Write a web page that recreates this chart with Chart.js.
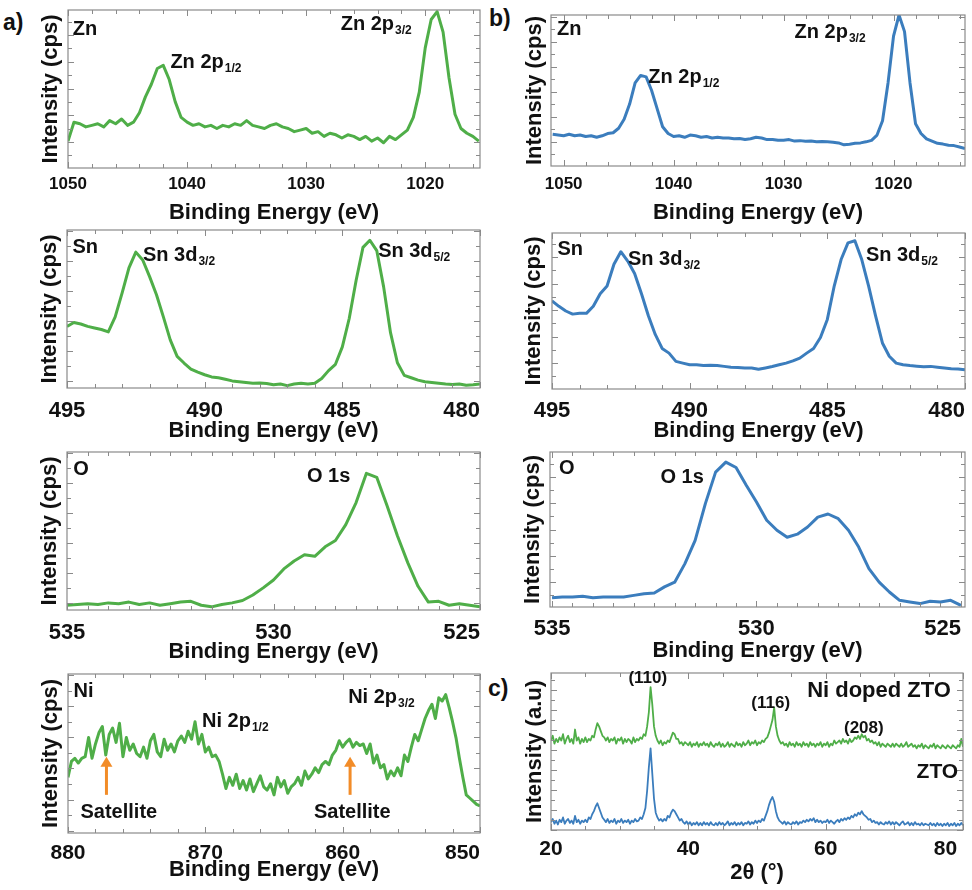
<!DOCTYPE html>
<html>
<head>
<meta charset="utf-8">
<script src="https://cdn.jsdelivr.net/npm/chart.js@4.4.1/dist/chart.umd.min.js"></script>
<style>
  body { margin: 0; background: #fff; width: 972px; height: 890px; position: relative; overflow: hidden;
         font-family: "Liberation Sans", Arial, sans-serif; }
  canvas { position: absolute; }
  .tag { position: absolute; font-weight: bold; font-size: 23px; color: #111; }
</style>
</head>
<body>
<div class="tag" style="left:3px;top:9px">a)</div>
<div class="tag" style="left:489px;top:5px">b)</div>
<div class="tag" style="left:488px;top:675px">c)</div>
<script>
// ---- data (intensities, 0 = bottom of frame, 100 = top) ----
// spectra sampled on a uniform grid: start, step
const znTicks = [1050, 1040, 1030, 1020];
const snTicks = [495, 490, 485, 480];
const oTicks = [535, 530, 525];
const niTicks = [880, 870, 860, 850];
const xrdTicks = [20, 40, 60, 80];

// Ni doped ZTO (green), 1050 -> 1015.5 eV, step 0.5
const znA_I = [17,29,28,26,27,28,26,30,28,31, 27,29,35,45,53,63,65,56,42,32,
  29,27,28,26,27,25,27,26,28,27, 30,27,26,25,27,28,26,25,23,24,
  25,22,23,20,22,21,19,21,20,18, 20,17,19,16,20,18,21,24,32,48,
  76,94,99,86,57,34,25,22,20,17];
// ZTO (blue), 1051 -> 1013.5 eV, step 0.5
const znB_I = [21,20.5,20,21,20,20.5,19.5,20,19,20, 21.5,22,25,31,41,55,60,59,50,38,
  26,21.5,19.5,20,19,20.5,20,19,19.5,18.5, 19,18.5,18.6,18,18.2,17.5,18,19,18.5,17.5,
  17.6,17,17,17.5,16.5,16.8,16.4,16.5,16,16.2, 16,15.8,15.3,14,14.4,15,15.3,16,17,20.5,
  30,55,86,100,89,55,28,21.5,18,16.5, 15,14.5,13.7,13.5,12.6,11.5];
// 495 -> 480 eV, step 0.25
const snA_I = [39,41.5,40.5,39,38,37,35.5,45,60,76, 86,81,70.5,59,45,30.5,20,15.8,12,10,
  8.4,7,6.5,5.5,4.5,4,3.5,3,3.2,2.8, 2,2.5,1.5,2.5,3,2.5,3,6,11,15,
  26,44,68,89,93.5,87,64,35,16,8, 6.5,5,4,3.5,3,2.5,2.2,2.5,1.8,2,2.5];
const snB_I = [56.5,53,50,48,48.5,48.5,53,61,66,80, 88,82,74,61,47,35,26,23,17.7,16.6,
  15.5,15.5,15,15.2,15,14.5,14,13.8,13.4,13.5, 12.7,13.5,14.4,15.5,16.6,18,19.8,23,26,33,
  44.6,66,83,93.7,95,83,66,47,29.5,21, 16.6,15.5,15,14.6,14.2,14.5,14,13.5,13,12.8,12.3];
// 535 -> 525 eV, step 0.25
const oA_I = [3,3.5,4,3.5,4.5,4,5,3.5,4.5,3, 4,5,5.5,3,2,3.5,4.5,6,9.5,14,
  19,26,31,35,34,40,44,54,68,86.5, 84,66,47,30,15,5,5.5,3,4,3, 2];
const oB_I = [6,6.5,6.5,7,6,6.5,6.5,6.5,7.5,8.6, 9,13,16,28,43,66.7,87,93.5,90,78.5,
  67.7,56,49.5,45,47,51.6,58,60,57,49.5, 38.7,24.7,16,9.7,4.3,3.2,2.2,3.7,3.2,4.3, 1];
// 880 -> 850 eV, step 0.25
const niA_I = [35,45,47,44,47,48,60,47,56,63, 67,49,62,66,57,69,48,60,52,56,
  50,48,54,47,58,62,51,48,59,52, 56,51,58,61,57,64,59,70,56,62,
  51,54,48,49,45,37,28,35,30,37, 28,33,27,34,26,31,36,29,27,31,
  24,35,29,33,25,29,31,35,30,39, 34,37,41,38,43,45,43,49,52,58,
  54,57,59,54,57,55,56,50,56,44, 49,41,43,34,39,36,41,36,49,45,
  54,62,58,65,72,77,81,72,85,83, 87,79,70,60,47,35,24,22,20,18, 17];
// XRD, 2theta 20 -> 80 deg, step 0.25
const xrdNi_I = [57,60,55,58,56,59,57,61,55,58, 60,56,58,55,64,57,59,55,58,56,
  59,56,58,57,60,59,64,68,66,63, 60,59,57,59,56,58,57,59,55,58,
  57,59,55,58,56,58,57,55,59,56, 58,57,59,58,61,60,66,75,91,80,
  66,60,57,55,57,54,56,55,57,56, 59,62,61,58,58,55,56,54,56,55,
  54,56,53,55,54,56,53,55,54,56, 54,55,53,56,54,53,55,54,56,53,
  55,53,54,56,53,55,54,53,56,54, 55,53,56,54,55,57,54,56,55,57,
  54,56,55,57,56,58,59,62,66,70, 78,66,60,57,55,56,54,55,53,56,
  54,55,53,56,54,55,53,56,54,55, 53,56,54,55,53,55,54,56,53,55,
  54,56,53,55,54,57,55,56,57,55, 58,56,57,55,58,56,57,59,58,60,
  58,61,59,60,57,58,56,57,55,56, 54,56,53,55,54,53,55,54,53,55,
  53,55,54,53,55,53,54,56,53,54, 55,53,54,52,54,53,55,52,54,53,
  52,54,53,55,52,54,53,52,54,53, 52,54,53,52,54,53,52,54,53,58, 53];
const xrdZTO_I = [5,7,4,6,3.5,6.5,5,8,4,6, 7,4.5,6,4,9,5,6.5,4,6,5,
  6.5,5,8,7,10,12,15,17,14,11, 8,6.5,5,7,4.5,6,5,7,4,6,
  5,7,4.5,6,5,6.5,4,6,5,7, 5.5,6,8,7,10,14,25,40,52,36,
  20,11,8,6,7,5.5,7,6,9,8, 11,13,12,10,8,6,7,5,4,5.5,
  3.5,5,3,4.5,3.5,5,3,4.5,3,5, 3.5,4.5,3,5,3.5,3,4.5,3,5,3.5,
  4.5,3,4,5.5,3,4.5,3.5,5,3,4.5, 3.5,5,3,4.5,4,5.5,3.5,5,4,6,
  4.5,6,5,7,6,9,12,16,19,21, 18,12,8,6,5,4,5.5,3.5,5,4,
  3.5,5,4,5.5,3.5,5,4.5,6,5,6.5, 5.5,7,6,7.5,5,6.5,5,6,4.5,5.5,
  5,6.5,4.5,6,5,4,5.5,6.5,5,7, 6,7.5,6.5,8,7,9,8,10,9,11,
  10,12,10,9,8,6.5,7,5,6,4.5, 5,3.5,5,4,3.5,5,4,5.5,3.5,5,
  3.5,5,4,3,4.5,5.5,3.5,4,5,3, 4.5,3,5,3.5,4,3,4.5,3,4,3.5,
  3,4.5,3,4,2.5,4.5,3,4,2.5,4, 3,4.5,2.5,4,3,4.5,2.5,4,3,4.5, 3];

const GREEN = '#4fae48', BLUE = '#3b7dbd', ORANGE = '#f28c28';
const FONT = '"Liberation Sans", Arial, sans-serif';

function series(start, step, vals) {
  return vals.map((v, i) => ({ x: +(start + i * step).toFixed(3), y: v }));
}

// frame with inward ticks on all four sides
const framePlugin = {
  id: 'frame',
  afterDraw(chart, args, o) {
    const { ctx, chartArea: a, scales: { x, y } } = chart;
    ctx.save();
    ctx.strokeStyle = '#8a8a8a';
    ctx.lineWidth = 1.2;
    ctx.strokeRect(a.left, a.top, a.right - a.left, a.bottom - a.top);
    ctx.lineWidth = 1;
    ctx.beginPath();
    const lo = Math.min(x.min, x.max), hi = Math.max(x.min, x.max);
    for (let v = Math.ceil(lo / o.minor - 1e-6) * o.minor; v <= hi + 1e-6; v += o.minor) {
      const px = Math.round(x.getPixelForValue(v)) + 0.5;
      const r = v / o.major;
      const L = Math.abs(r - Math.round(r)) < 1e-6 ? 6 : 4;
      ctx.moveTo(px, a.bottom); ctx.lineTo(px, a.bottom - L);
      ctx.moveTo(px, a.top); ctx.lineTo(px, a.top + L);
    }
    const half = o.ystep / 2;
    let v = o.y0 - Math.floor(o.y0 / half) * half;
    for (; v <= 100; v += half) {
      const py = Math.round(y.getPixelForValue(v)) + 0.5;
      const r = (v - o.y0) / o.ystep;
      const L = Math.abs(r - Math.round(r)) < 1e-6 ? 6 : 4;
      ctx.moveTo(a.left, py); ctx.lineTo(a.left + L, py);
      ctx.moveTo(a.right, py); ctx.lineTo(a.right - L, py);
    }
    ctx.stroke();
    ctx.restore();
  }
};

// peak labels (with subscripts) and arrows, placed in data coordinates
const notesPlugin = {
  id: 'notes',
  afterDraw(chart, args, o) {
    const { ctx, scales: { x, y } } = chart;
    ctx.save();
    ctx.fillStyle = '#111';
    ctx.textBaseline = 'alphabetic';
    (o.items || []).forEach(n => {
      const size = n.size || 20;
      const main = `bold ${size}px ${FONT}`, sub = `bold ${Math.round(size * 0.62)}px ${FONT}`;
      ctx.font = main;
      const w1 = ctx.measureText(n.t).width;
      ctx.font = sub;
      const w2 = n.s ? ctx.measureText(n.s).width : 0;
      let px = x.getPixelForValue(n.x);
      const py = y.getPixelForValue(n.y);
      if (n.align === 'center') px -= (w1 + w2) / 2;
      if (n.align === 'right') px -= (w1 + w2);
      ctx.font = main;
      ctx.fillText(n.t, px, py);
      if (n.s) { ctx.font = sub; ctx.fillText(n.s, px + w1 + 1, py + 4); }
    });
    (o.arrows || []).forEach(ar => {
      const px = x.getPixelForValue(ar.x);
      const p0 = y.getPixelForValue(ar.y0), p1 = y.getPixelForValue(ar.y1);
      ctx.strokeStyle = ORANGE; ctx.fillStyle = ORANGE; ctx.lineWidth = 3;
      ctx.beginPath(); ctx.moveTo(px, p0); ctx.lineTo(px, p1 + 8); ctx.stroke();
      ctx.beginPath(); ctx.moveTo(px - 6, p1 + 10); ctx.lineTo(px + 6, p1 + 10); ctx.lineTo(px, p1); ctx.closePath(); ctx.fill();
    });
    ctx.restore();
  }
};

const XPS_TITLE = 'Binding Energy (eV)';
const panels = [
  { box: [0, 0, 485], area: [68, 10, 480, 168], xr: [1015.4, 1050], rev: true, xt: znTicks, minor: 2, major: 10,
    y0: 16.5, ystep: 16.9, lab: 15, tit: 45, tsize: 17, yTitleX: 51, xTitle: XPS_TITLE, yTitle: 'Intensity (cps)',
    sets: [{ data: series(1050, -0.5, znA_I), color: GREEN, width: 3 }],
    notes: [{ x: 1049.6, y: 84, t: 'Zn' }, { x: 1041.4, y: 63.3, t: 'Zn 2p', s: '1/2' }, { x: 1027.1, y: 87.3, t: 'Zn 2p', s: '3/2' }] },
  { box: [485, 0, 487], area: [551, 15, 965, 166], xr: [1013.5, 1051.15], rev: true, xt: znTicks, minor: 2, major: 10,
    y0: 16, ystep: 16.6, lab: 17, tit: 47, tsize: 17, yTitleX: 535, xTitle: XPS_TITLE, yTitle: 'Intensity (cps)',
    sets: [{ data: series(1051, -0.5, znB_I), color: BLUE, width: 3 }],
    notes: [{ x: 1050.6, y: 87, t: 'Zn' }, { x: 1042.3, y: 55, t: 'Zn 2p', s: '1/2' }, { x: 1029, y: 84.8, t: 'Zn 2p', s: '3/2' }] },
  { box: [0, 220, 485], area: [67, 230, 480, 388], xr: [480, 495], rev: true, xt: snTicks, edge: 480, minor: 1, major: 5,
    y0: 4.6, ystep: 19, lab: 22, tit: 43, tsize: 22, yTitleX: 50, xTitle: XPS_TITLE, yTitle: 'Intensity (cps)',
    sets: [{ data: series(495, -0.25, snA_I), color: GREEN, width: 3 }],
    notes: [{ x: 494.8, y: 85.4, t: 'Sn' }, { x: 492.24, y: 80.6, t: 'Sn 3d', s: '3/2' }, { x: 483.7, y: 83, t: 'Sn 3d', s: '5/2' }] },
  { box: [485, 220, 487], area: [552, 233, 965, 389], xr: [480, 495], rev: true, xt: snTicks, edge: 480, minor: 1, major: 5,
    y0: 16.6, ystep: 17, lab: 21, tit: 42, tsize: 22, yTitleX: 534, xTitle: XPS_TITLE, yTitle: 'Intensity (cps)',
    sets: [{ data: series(495, -0.25, snB_I), color: BLUE, width: 3 }],
    notes: [{ x: 494.8, y: 86, t: 'Sn' }, { x: 492.24, y: 79.5, t: 'Sn 3d', s: '3/2' }, { x: 483.6, y: 82, t: 'Sn 3d', s: '5/2' }] },
  { box: [0, 440, 485], area: [67, 452, 480, 610], xr: [525, 535], rev: true, xt: oTicks, edge: 525, minor: 0.5, major: 5,
    y0: 4.2, ystep: 19, lab: 22, tit: 42, tsize: 22, yTitleX: 50, xTitle: XPS_TITLE, yTitle: 'Intensity (cps)',
    sets: [{ data: series(535, -0.25, oA_I), color: GREEN, width: 3 }],
    notes: [{ x: 534.85, y: 85.4, t: 'O' }, { x: 529.19, y: 81.2, t: 'O 1s' }] },
  { box: [485, 440, 487], area: [550, 452, 965, 607], xr: [524.9, 535.05], rev: true, xt: oTicks, edge: 525, minor: 0.5, major: 5,
    y0: 16, ystep: 17, lab: 21, tit: 44, tsize: 22, yTitleX: 533, xTitle: XPS_TITLE, yTitle: 'Intensity (cps)',
    sets: [{ data: series(535, -0.25, oB_I), color: BLUE, width: 3 }],
    notes: [{ x: 534.83, y: 85.6, t: 'O' }, { x: 532.35, y: 80, t: 'O 1s' }] },
  { box: [0, 662, 485], area: [68, 674, 480, 833], xr: [850, 880], rev: true, xt: niTicks, edge: 850, minor: 2, major: 10,
    y0: 21, ystep: 19.6, lab: 19, tit: 37, tsize: 21, yTitleX: 51, xTitle: XPS_TITLE, yTitle: 'Intensity (cps)',
    sets: [{ data: series(880, -0.25, niA_I), color: GREEN, width: 3 }],
    notes: [{ x: 879.6, y: 85.7, t: 'Ni' }, { x: 870.24, y: 66.9, t: 'Ni 2p', s: '1/2' }, { x: 859.6, y: 81.6, t: 'Ni 2p', s: '3/2' },
            { x: 876.3, y: 9.2, t: 'Satellite', align: 'center' }, { x: 859.3, y: 9.2, t: 'Satellite', align: 'center' }],
    arrows: [{ x: 877.2, y0: 24, y1: 48 }, { x: 859.46, y0: 24, y1: 48 }] },
  { box: [485, 662, 487], area: [551, 673, 963, 830], xr: [20, 80], rev: false, xt: xrdTicks, edge: 80, minor: 5, major: 20,
    y0: 12.7, ystep: 12.7, lab: 18, tit: 43, tsize: 21, yTitleX: 535, xTitle: '2θ (°)', yTitle: 'Intensity (a.u)',
    sets: [{ data: series(20, 0.25, xrdNi_I), color: GREEN, width: 1.8 }, { data: series(20, 0.25, xrdZTO_I), color: BLUE, width: 1.8 }],
    notes: [{ x: 34.1, y: 93.6, t: '(110)', align: 'center', size: 17 }, { x: 52.0, y: 77.5, t: '(116)', align: 'center', size: 17 },
            { x: 65.56, y: 62, t: '(208)', align: 'center', size: 17 }, { x: 57.3, y: 85, t: 'Ni doped ZTO', size: 22 },
            { x: 79.3, y: 33, t: 'ZTO', align: 'right', size: 21 }] }
];

const TITLE_SIZE = 22, TITLE_LH = TITLE_SIZE * 1.2;

panels.forEach(p => {
  const [bx, by, bw] = p.box;
  const [l, t, r, b] = p.area;
  const h = b + p.tit + TITLE_LH / 2 - by;
  const cv = document.createElement('canvas');
  cv.width = bw; cv.height = Math.round(h);
  cv.style.left = bx + 'px'; cv.style.top = by + 'px';
  document.body.appendChild(cv);

  new Chart(cv, {
    type: 'scatter',
    data: {
      datasets: p.sets.map(s => ({
        data: s.data, borderColor: s.color, borderWidth: s.width, showLine: true,
        pointRadius: 0, tension: 0, borderJoinStyle: 'round'
      }))
    },
    options: {
      responsive: false,
      animation: false,
      devicePixelRatio: 1,
      layout: { padding: { left: 0, top: t - by, right: bx + bw - r, bottom: 0 } },
      plugins: {
        legend: { display: false },
        tooltip: { enabled: false },
        frame: { minor: p.minor, major: p.major, y0: p.y0, ystep: p.ystep },
        notes: { items: p.notes, arrows: p.arrows }
      },
      scales: {
        x: {
          type: 'linear', reverse: p.rev, min: p.xr[0], max: p.xr[1],
          afterBuildTicks: s => { s.ticks = p.xt.map(v => ({ value: v })); },
          afterFit: s => { s.height = cv.height - (b - by); s.paddingLeft = 0; s.paddingRight = 0; },
          grid: { display: false, drawTicks: false }, border: { display: false },
          ticks: {
            autoSkip: false, maxRotation: 0, color: '#111',
            font: { family: FONT, size: p.tsize, weight: 'bold' },
            padding: p.lab - p.tsize * 0.6 + 1,
            callback: v => v === p.edge ? v + '\u2007\u2007\u2007' : String(v)
          },
          title: { display: true, text: p.xTitle, color: '#111', padding: { top: 0, bottom: 0 },
                   font: { family: FONT, size: TITLE_SIZE, weight: 'bold' } }
        },
        y: {
          min: 0, max: 100,
          afterFit: s => { s.width = l - bx; s.paddingTop = 0; s.paddingBottom = 0; },
          grid: { display: false, drawTicks: false }, border: { display: false }, ticks: { display: false },
          title: { display: true, text: p.yTitle, color: '#111', padding: { top: p.yTitleX - bx - TITLE_LH / 2, bottom: 0 },
                   font: { family: FONT, size: TITLE_SIZE, weight: 'bold' } }
        }
      }
    },
    plugins: [framePlugin, notesPlugin]
  });
});
</script>
</body>
</html>
